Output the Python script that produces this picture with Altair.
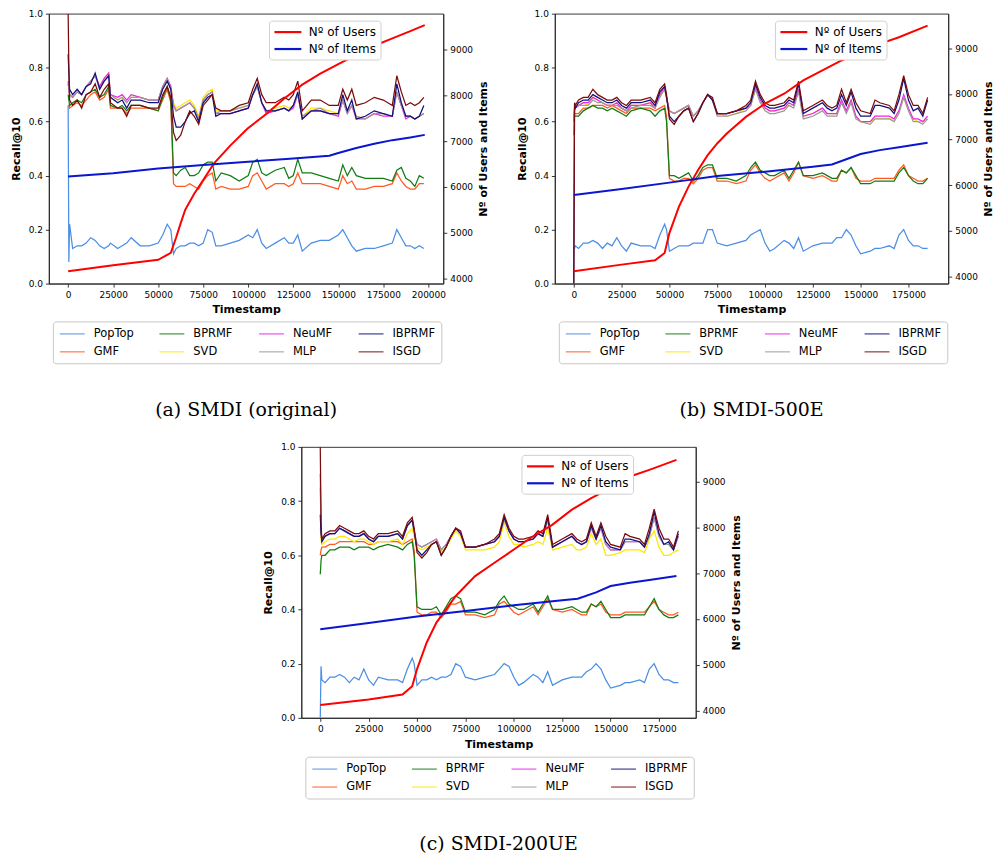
import altair as alt
import pandas as pd

# ---------------- shared definitions ----------------
DRAW_ORDER = ["PopTop", "GMF", "BPRMF", "SVD", "NeuMF", "MLP", "IBPRMF", "ISGD"]
LEGEND_ORDER = ["PopTop", "GMF", "BPRMF", "SVD", "NeuMF", "MLP", "IBPRMF", "ISGD"]
ALG_COLORS = {
    "PopTop": "#4a8ee6", "GMF": "#ff5a24", "BPRMF": "#127d12", "SVD": "#ffe800",
    "NeuMF": "#ee22ee", "MLP": "#9a9a9a", "IBPRMF": "#10107e", "ISGD": "#7b0a0a",
}
COUNT_NAMES = ["Nº of Users", "Nº of Items"]
COUNT_COLORS = ["#ff0000", "#0a16cf"]

# ---------------- (a) SMDI (original) ----------------
TS_A = [0, 400, 800, 2500, 5000, 7500, 10000, 12500, 15000, 17500,
        20000, 22500, 23500, 27500, 30000, 32500, 35000, 40000, 45000, 50000,
        52500, 55000, 57000, 58500, 60000, 62500, 65000, 67500, 70000, 72500,
        75000, 77500, 80000, 82000, 85000, 90000, 95000, 100000, 102500, 105000,
        107500, 110000, 115000, 120000, 122500, 125000, 127500, 130000, 135000, 140000,
        145000, 150000, 152500, 155000, 157500, 160000, 165000, 170000, 175000, 180000,
        182500, 185000, 187500, 190000, 192500, 195000, 197500]
POPTOP_A = [0.66, 0.08, 0.22, 0.13, 0.14, 0.14, 0.15, 0.17, 0.16, 0.14,
            0.13, 0.14, 0.15, 0.13, 0.14, 0.15, 0.17, 0.14, 0.14, 0.15,
            0.18, 0.22, 0.20, 0.11, 0.13, 0.14, 0.14, 0.15, 0.15, 0.14,
            0.15, 0.20, 0.19, 0.14, 0.14, 0.15, 0.16, 0.18, 0.17, 0.20,
            0.15, 0.13, 0.15, 0.17, 0.15, 0.15, 0.18, 0.12, 0.15, 0.16,
            0.16, 0.18, 0.20, 0.17, 0.14, 0.12, 0.13, 0.13, 0.14, 0.15,
            0.20, 0.17, 0.14, 0.14, 0.13, 0.14, 0.13]
GMF_A = [0.66, 0.66, 0.65, 0.66, 0.67, 0.66, 0.68, 0.70, 0.71, 0.68,
         0.69, 0.72, 0.65, 0.65, 0.65, 0.63, 0.65, 0.65, 0.65, 0.64,
         0.68, 0.72, 0.67, 0.37, 0.36, 0.36, 0.36, 0.37, 0.36, 0.35,
         0.38, 0.40, 0.41, 0.35, 0.36, 0.35, 0.35, 0.36, 0.40, 0.41,
         0.38, 0.35, 0.37, 0.37, 0.36, 0.37, 0.41, 0.37, 0.37, 0.37,
         0.36, 0.35, 0.40, 0.37, 0.38, 0.35, 0.35, 0.36, 0.36, 0.37,
         0.41, 0.38, 0.36, 0.35, 0.35, 0.37, 0.37]
BPRMF_A = [0.70, 0.68, 0.66, 0.67, 0.68, 0.67, 0.70, 0.71, 0.72, 0.69,
           0.70, 0.73, 0.66, 0.65, 0.66, 0.64, 0.66, 0.66, 0.65, 0.64,
           0.69, 0.73, 0.68, 0.41, 0.40, 0.42, 0.43, 0.40, 0.40, 0.41,
           0.44, 0.45, 0.45, 0.38, 0.41, 0.40, 0.38, 0.40, 0.45, 0.46,
           0.41, 0.40, 0.42, 0.43, 0.39, 0.40, 0.46, 0.41, 0.41, 0.40,
           0.39, 0.38, 0.44, 0.40, 0.43, 0.40, 0.39, 0.39, 0.39, 0.38,
           0.42, 0.43, 0.39, 0.38, 0.36, 0.40, 0.39]
SVD_A = [0.74, 0.72, 0.70, 0.69, 0.71, 0.70, 0.73, 0.75, 0.77, 0.73,
         0.76, 0.78, 0.70, 0.68, 0.69, 0.67, 0.69, 0.69, 0.68, 0.68,
         0.73, 0.76, 0.73, 0.67, 0.65, 0.66, 0.67, 0.68, 0.66, 0.62,
         0.69, 0.71, 0.72, 0.64, 0.64, 0.64, 0.65, 0.66, 0.70, 0.73,
         0.67, 0.64, 0.65, 0.66, 0.65, 0.66, 0.70, 0.62, 0.65, 0.65,
         0.64, 0.63, 0.68, 0.64, 0.66, 0.62, 0.61, 0.63, 0.63, 0.62,
         0.71, 0.66, 0.62, 0.62, 0.61, 0.62, 0.63]
NEUMF_A = [0.75, 0.72, 0.70, 0.69, 0.71, 0.70, 0.73, 0.75, 0.77, 0.73,
           0.76, 0.78, 0.70, 0.69, 0.70, 0.68, 0.70, 0.69, 0.68, 0.68,
           0.73, 0.76, 0.73, 0.66, 0.64, 0.65, 0.66, 0.67, 0.65, 0.61,
           0.68, 0.70, 0.71, 0.63, 0.63, 0.63, 0.64, 0.65, 0.70, 0.73,
           0.67, 0.63, 0.64, 0.65, 0.64, 0.65, 0.70, 0.61, 0.64, 0.64,
           0.63, 0.62, 0.68, 0.63, 0.66, 0.61, 0.61, 0.63, 0.62, 0.62,
           0.71, 0.66, 0.61, 0.62, 0.61, 0.62, 0.63]
MLP_A = [0.74, 0.72, 0.70, 0.69, 0.71, 0.70, 0.73, 0.75, 0.77, 0.72,
         0.75, 0.77, 0.70, 0.68, 0.69, 0.67, 0.69, 0.69, 0.68, 0.68,
         0.73, 0.76, 0.72, 0.66, 0.64, 0.65, 0.66, 0.67, 0.65, 0.61,
         0.68, 0.70, 0.71, 0.63, 0.64, 0.64, 0.65, 0.66, 0.70, 0.73,
         0.67, 0.64, 0.64, 0.65, 0.64, 0.66, 0.70, 0.62, 0.64, 0.65,
         0.63, 0.63, 0.68, 0.63, 0.66, 0.62, 0.61, 0.63, 0.63, 0.62,
         0.71, 0.66, 0.62, 0.62, 0.61, 0.62, 0.63]
IBPRMF_A = [0.85, 0.78, 0.72, 0.70, 0.72, 0.70, 0.73, 0.74, 0.78, 0.72,
            0.75, 0.77, 0.69, 0.67, 0.68, 0.65, 0.68, 0.68, 0.67, 0.67,
            0.72, 0.75, 0.72, 0.62, 0.58, 0.58, 0.60, 0.63, 0.64, 0.60,
            0.67, 0.69, 0.70, 0.62, 0.63, 0.63, 0.64, 0.65, 0.70, 0.74,
            0.67, 0.64, 0.64, 0.65, 0.64, 0.66, 0.71, 0.61, 0.64, 0.64,
            0.63, 0.63, 0.70, 0.64, 0.68, 0.61, 0.62, 0.64, 0.63, 0.62,
            0.74, 0.67, 0.62, 0.62, 0.61, 0.62, 0.66]
ISGD_A = [1.00, 0.80, 0.68, 0.66, 0.68, 0.65, 0.70, 0.71, 0.74, 0.69,
          0.72, 0.74, 0.67, 0.65, 0.65, 0.62, 0.66, 0.66, 0.65, 0.65,
          0.70, 0.73, 0.69, 0.56, 0.53, 0.55, 0.60, 0.64, 0.62, 0.59,
          0.66, 0.68, 0.70, 0.65, 0.64, 0.64, 0.66, 0.67, 0.72, 0.76,
          0.70, 0.67, 0.67, 0.69, 0.68, 0.70, 0.75, 0.64, 0.68, 0.68,
          0.66, 0.66, 0.72, 0.68, 0.72, 0.66, 0.67, 0.69, 0.68, 0.66,
          0.77, 0.71, 0.66, 0.67, 0.66, 0.67, 0.69]
USERS_TS_A = [0, 25000, 50000, 57000, 60000, 62500, 65000, 70000, 75000, 81000, 90000,
              99500, 110000, 120000, 130000, 140000, 150000, 160000, 170000, 180000, 190000, 198000]
USERS_A = [4160, 4290, 4410, 4560, 4900, 5210, 5500, 5850, 6150, 6515, 6900,
           7270, 7590, 7930, 8230, 8470, 8680, 8880, 9080, 9240, 9400, 9530]
ITEMS_TS_A = [0, 25000, 50000, 75000, 100000, 125000, 145000, 150000, 160000, 170000, 180000, 190000, 198000]
ITEMS_A = [6225, 6300, 6400, 6480, 6550, 6620, 6680, 6740, 6850, 6940, 7020, 7080, 7135]

# ---------------- (b) SMDI-500E and (c) SMDI-200UE share the time grid ----------------
TS_BC = [0, 400, 800, 2500, 5000, 7500, 10000, 12500, 15000, 17500,
         20000, 22500, 25000, 27500, 30000, 35000, 40000, 42500, 45000, 47500,
         48500, 50000, 52500, 55000, 57500, 60000, 62500, 65000, 67500, 70000,
         72500, 75000, 80000, 85000, 90000, 92500, 95000, 97500, 100000, 102500,
         105000, 110000, 112500, 115000, 117500, 120000, 125000, 130000, 132500, 135000,
         137500, 140000, 142500, 145000, 147500, 150000, 155000, 157500, 160000, 165000,
         167500, 170000, 172500, 175000, 177500, 180000, 182500, 185000]

POPTOP_B = [0.13, 0.13, 0.14, 0.13, 0.15, 0.15, 0.16, 0.15, 0.13, 0.15,
            0.14, 0.17, 0.14, 0.12, 0.15, 0.14, 0.14, 0.13, 0.18, 0.22,
            0.20, 0.12, 0.13, 0.14, 0.14, 0.14, 0.15, 0.15, 0.15, 0.20,
            0.20, 0.15, 0.14, 0.15, 0.16, 0.18, 0.19, 0.20, 0.15, 0.12,
            0.13, 0.16, 0.15, 0.13, 0.17, 0.12, 0.14, 0.15, 0.15, 0.15,
            0.17, 0.17, 0.20, 0.18, 0.14, 0.11, 0.12, 0.13, 0.13, 0.14,
            0.13, 0.18, 0.20, 0.16, 0.14, 0.14, 0.13, 0.13]
GMF_B = [0.55, 0.63, 0.63, 0.63, 0.65, 0.65, 0.66, 0.66, 0.66, 0.65,
         0.66, 0.65, 0.64, 0.63, 0.65, 0.65, 0.65, 0.64, 0.65, 0.66,
         0.62, 0.39, 0.38, 0.38, 0.39, 0.39, 0.37, 0.39, 0.42, 0.43,
         0.43, 0.38, 0.38, 0.37, 0.38, 0.42, 0.44, 0.41, 0.39, 0.38,
         0.39, 0.41, 0.38, 0.41, 0.45, 0.40, 0.39, 0.40, 0.39, 0.38,
         0.38, 0.42, 0.41, 0.43, 0.39, 0.38, 0.38, 0.39, 0.39, 0.39,
         0.39, 0.42, 0.44, 0.40, 0.39, 0.38, 0.38, 0.39]
BPRMF_B = [0.60, 0.62, 0.62, 0.62, 0.64, 0.65, 0.66, 0.65, 0.65, 0.64,
           0.65, 0.64, 0.63, 0.62, 0.64, 0.65, 0.64, 0.62, 0.64, 0.65,
           0.60, 0.40, 0.40, 0.39, 0.40, 0.41, 0.38, 0.40, 0.43, 0.44,
           0.44, 0.39, 0.39, 0.38, 0.40, 0.43, 0.45, 0.42, 0.41, 0.40,
           0.40, 0.42, 0.39, 0.42, 0.45, 0.40, 0.40, 0.41, 0.40, 0.39,
           0.39, 0.42, 0.41, 0.43, 0.40, 0.37, 0.37, 0.38, 0.38, 0.38,
           0.38, 0.41, 0.43, 0.40, 0.38, 0.37, 0.37, 0.39]
SVD_B = [0.60, 0.65, 0.65, 0.66, 0.67, 0.66, 0.69, 0.68, 0.67, 0.66,
         0.66, 0.67, 0.65, 0.64, 0.66, 0.66, 0.67, 0.65, 0.70, 0.72,
         0.69, 0.64, 0.63, 0.64, 0.65, 0.66, 0.62, 0.64, 0.67, 0.70,
         0.68, 0.63, 0.62, 0.63, 0.65, 0.66, 0.72, 0.68, 0.65, 0.64,
         0.64, 0.65, 0.66, 0.66, 0.72, 0.62, 0.63, 0.65, 0.63, 0.63,
         0.63, 0.67, 0.64, 0.68, 0.62, 0.60, 0.60, 0.61, 0.61, 0.61,
         0.61, 0.64, 0.69, 0.64, 0.61, 0.60, 0.60, 0.61]
NEUMF_B = [0.60, 0.65, 0.65, 0.66, 0.67, 0.67, 0.69, 0.68, 0.67, 0.66,
           0.66, 0.67, 0.65, 0.64, 0.66, 0.66, 0.67, 0.65, 0.70, 0.73,
           0.69, 0.64, 0.63, 0.64, 0.65, 0.66, 0.62, 0.64, 0.67, 0.70,
           0.68, 0.63, 0.63, 0.64, 0.65, 0.66, 0.73, 0.68, 0.65, 0.64,
           0.64, 0.65, 0.67, 0.66, 0.72, 0.62, 0.63, 0.65, 0.63, 0.63,
           0.63, 0.68, 0.64, 0.68, 0.62, 0.60, 0.60, 0.62, 0.62, 0.62,
           0.61, 0.64, 0.70, 0.65, 0.61, 0.61, 0.60, 0.62]
MLP_B = [0.60, 0.64, 0.65, 0.66, 0.66, 0.66, 0.68, 0.67, 0.67, 0.66,
         0.66, 0.66, 0.65, 0.64, 0.65, 0.66, 0.66, 0.65, 0.69, 0.72,
         0.69, 0.64, 0.63, 0.64, 0.65, 0.66, 0.62, 0.64, 0.67, 0.70,
         0.68, 0.62, 0.62, 0.63, 0.64, 0.66, 0.72, 0.67, 0.64, 0.63,
         0.63, 0.64, 0.66, 0.65, 0.71, 0.61, 0.62, 0.64, 0.62, 0.62,
         0.62, 0.67, 0.63, 0.67, 0.61, 0.60, 0.59, 0.61, 0.61, 0.61,
         0.60, 0.63, 0.69, 0.64, 0.60, 0.60, 0.59, 0.61]
IBPRMF_B = [0.00, 0.66, 0.65, 0.67, 0.68, 0.68, 0.70, 0.69, 0.68, 0.67,
            0.67, 0.68, 0.66, 0.65, 0.67, 0.67, 0.68, 0.66, 0.71, 0.73,
            0.69, 0.62, 0.60, 0.62, 0.64, 0.65, 0.60, 0.63, 0.67, 0.70,
            0.68, 0.63, 0.63, 0.64, 0.65, 0.67, 0.74, 0.69, 0.66, 0.65,
            0.65, 0.66, 0.68, 0.67, 0.74, 0.63, 0.65, 0.67, 0.65, 0.64,
            0.65, 0.70, 0.66, 0.71, 0.65, 0.62, 0.62, 0.66, 0.66, 0.65,
            0.63, 0.68, 0.76, 0.68, 0.64, 0.65, 0.62, 0.68]
ISGD_B = [0.00, 0.67, 0.66, 0.68, 0.69, 0.69, 0.72, 0.70, 0.69, 0.68,
          0.68, 0.69, 0.67, 0.66, 0.68, 0.68, 0.69, 0.67, 0.72, 0.74,
          0.70, 0.61, 0.59, 0.62, 0.64, 0.65, 0.60, 0.63, 0.67, 0.70,
          0.69, 0.63, 0.63, 0.64, 0.66, 0.68, 0.75, 0.70, 0.67, 0.66,
          0.66, 0.67, 0.69, 0.68, 0.75, 0.64, 0.66, 0.68, 0.66, 0.65,
          0.66, 0.72, 0.67, 0.72, 0.67, 0.64, 0.63, 0.68, 0.67, 0.66,
          0.64, 0.70, 0.77, 0.70, 0.66, 0.66, 0.63, 0.69]
USERS_TS_B = [0, 25000, 42500, 47500, 50000, 55000, 60000, 65000, 70000, 75000, 80000,
              90000, 100000, 110000, 120000, 130000, 140000, 150000, 160000, 170000, 185000]
USERS_B = [4116, 4262, 4356, 4516, 4952, 5533, 5970, 6333, 6660, 6914, 7132,
           7496, 7786, 8004, 8295, 8513, 8731, 8913, 9094, 9240, 9494]
ITEMS_TS_B = [0, 25000, 50000, 75000, 100000, 125000, 135000, 142500, 150000, 160000, 170000, 185000]
ITEMS_B = [5788, 5920, 6057, 6202, 6297, 6405, 6456, 6570, 6682, 6769, 6830, 6929]

POPTOP_C = [0.00, 0.19, 0.14, 0.13, 0.15, 0.15, 0.16, 0.15, 0.13, 0.15,
            0.14, 0.18, 0.14, 0.12, 0.15, 0.14, 0.14, 0.13, 0.18, 0.22,
            0.20, 0.12, 0.14, 0.14, 0.15, 0.14, 0.15, 0.15, 0.16, 0.20,
            0.19, 0.15, 0.14, 0.15, 0.16, 0.18, 0.20, 0.19, 0.15, 0.12,
            0.13, 0.16, 0.15, 0.13, 0.17, 0.12, 0.14, 0.15, 0.15, 0.15,
            0.17, 0.18, 0.20, 0.18, 0.14, 0.11, 0.12, 0.13, 0.13, 0.14,
            0.13, 0.18, 0.20, 0.16, 0.14, 0.14, 0.13, 0.13]
GMF_C = [0.60, 0.62, 0.63, 0.63, 0.64, 0.64, 0.65, 0.65, 0.65, 0.65,
         0.65, 0.65, 0.64, 0.64, 0.65, 0.65, 0.65, 0.64, 0.65, 0.66,
         0.62, 0.39, 0.38, 0.38, 0.39, 0.39, 0.37, 0.39, 0.42, 0.42,
         0.43, 0.38, 0.38, 0.37, 0.38, 0.42, 0.43, 0.41, 0.39, 0.38,
         0.39, 0.41, 0.38, 0.41, 0.44, 0.40, 0.39, 0.40, 0.39, 0.38,
         0.38, 0.42, 0.41, 0.42, 0.39, 0.38, 0.38, 0.39, 0.39, 0.39,
         0.39, 0.41, 0.43, 0.40, 0.39, 0.38, 0.38, 0.39]
BPRMF_C = [0.53, 0.58, 0.60, 0.60, 0.62, 0.62, 0.63, 0.63, 0.63, 0.62,
           0.63, 0.63, 0.63, 0.62, 0.63, 0.64, 0.63, 0.62, 0.64, 0.65,
           0.60, 0.41, 0.40, 0.40, 0.40, 0.41, 0.38, 0.41, 0.44, 0.45,
           0.44, 0.39, 0.39, 0.38, 0.40, 0.43, 0.45, 0.42, 0.41, 0.40,
           0.40, 0.42, 0.39, 0.42, 0.45, 0.40, 0.40, 0.41, 0.40, 0.39,
           0.39, 0.42, 0.41, 0.43, 0.40, 0.37, 0.37, 0.38, 0.38, 0.38,
           0.38, 0.41, 0.44, 0.40, 0.38, 0.37, 0.37, 0.38]
SVD_C = [0.70, 0.66, 0.64, 0.65, 0.66, 0.66, 0.67, 0.67, 0.66, 0.65,
         0.66, 0.66, 0.65, 0.64, 0.65, 0.65, 0.66, 0.64, 0.68, 0.70,
         0.67, 0.63, 0.62, 0.63, 0.64, 0.65, 0.61, 0.63, 0.66, 0.69,
         0.67, 0.62, 0.62, 0.62, 0.63, 0.65, 0.72, 0.67, 0.64, 0.64,
         0.63, 0.64, 0.65, 0.64, 0.70, 0.62, 0.63, 0.64, 0.62, 0.62,
         0.63, 0.68, 0.64, 0.66, 0.60, 0.60, 0.61, 0.62, 0.62, 0.62,
         0.61, 0.66, 0.69, 0.63, 0.60, 0.60, 0.61, 0.62]
NEUMF_C = [0.90, 0.70, 0.66, 0.67, 0.68, 0.68, 0.70, 0.69, 0.68, 0.67,
           0.67, 0.68, 0.66, 0.65, 0.67, 0.67, 0.68, 0.66, 0.71, 0.73,
           0.69, 0.64, 0.63, 0.64, 0.65, 0.66, 0.62, 0.64, 0.67, 0.70,
           0.68, 0.63, 0.63, 0.64, 0.65, 0.67, 0.74, 0.69, 0.66, 0.65,
           0.65, 0.66, 0.68, 0.67, 0.73, 0.63, 0.65, 0.67, 0.65, 0.64,
           0.65, 0.70, 0.66, 0.70, 0.64, 0.62, 0.62, 0.65, 0.65, 0.65,
           0.63, 0.67, 0.74, 0.67, 0.64, 0.64, 0.62, 0.67]
MLP_C = [0.85, 0.69, 0.66, 0.67, 0.68, 0.68, 0.70, 0.69, 0.68, 0.67,
         0.67, 0.68, 0.66, 0.65, 0.67, 0.67, 0.68, 0.66, 0.71, 0.73,
         0.69, 0.64, 0.63, 0.64, 0.65, 0.66, 0.62, 0.64, 0.67, 0.70,
         0.68, 0.63, 0.63, 0.64, 0.65, 0.67, 0.73, 0.69, 0.66, 0.65,
         0.65, 0.66, 0.68, 0.67, 0.73, 0.63, 0.65, 0.67, 0.65, 0.64,
         0.65, 0.70, 0.66, 0.70, 0.64, 0.62, 0.62, 0.65, 0.65, 0.65,
         0.63, 0.67, 0.74, 0.67, 0.64, 0.64, 0.62, 0.67]
IBPRMF_C = [0.75, 0.68, 0.65, 0.67, 0.68, 0.68, 0.70, 0.69, 0.68, 0.67,
            0.67, 0.68, 0.66, 0.65, 0.67, 0.67, 0.68, 0.66, 0.71, 0.73,
            0.69, 0.62, 0.60, 0.62, 0.64, 0.65, 0.60, 0.63, 0.67, 0.70,
            0.68, 0.63, 0.63, 0.64, 0.65, 0.67, 0.74, 0.69, 0.66, 0.65,
            0.65, 0.66, 0.68, 0.67, 0.74, 0.63, 0.65, 0.67, 0.65, 0.64,
            0.65, 0.71, 0.66, 0.71, 0.65, 0.63, 0.62, 0.66, 0.66, 0.65,
            0.63, 0.68, 0.76, 0.68, 0.64, 0.65, 0.62, 0.68]
ISGD_C = [1.00, 0.72, 0.66, 0.68, 0.69, 0.69, 0.71, 0.70, 0.69, 0.68,
          0.68, 0.69, 0.67, 0.66, 0.68, 0.68, 0.69, 0.67, 0.72, 0.74,
          0.70, 0.61, 0.59, 0.61, 0.64, 0.65, 0.60, 0.63, 0.67, 0.70,
          0.69, 0.63, 0.63, 0.64, 0.66, 0.68, 0.75, 0.70, 0.67, 0.66,
          0.66, 0.67, 0.69, 0.68, 0.75, 0.64, 0.66, 0.68, 0.66, 0.65,
          0.66, 0.72, 0.67, 0.72, 0.67, 0.64, 0.63, 0.68, 0.67, 0.66,
          0.64, 0.70, 0.77, 0.70, 0.66, 0.66, 0.63, 0.69]
USERS_TS_C = [0, 25000, 42500, 47500, 50000, 55000, 60000, 65000, 70000, 80000, 90000,
              100000, 110000, 120000, 130000, 140000, 150000, 160000, 170000, 184000]
USERS_C = [4123, 4240, 4348, 4529, 4906, 5486, 5920, 6210, 6500, 6935, 7225,
           7514, 7804, 8058, 8384, 8638, 8855, 9109, 9254, 9471]
ITEMS_TS_C = [0, 25000, 50000, 75000, 100000, 125000, 133000, 142500, 150000, 160000, 170000, 184000]
ITEMS_C = [5775, 5910, 6051, 6174, 6297, 6406, 6442, 6580, 6717, 6790, 6850, 6935]

X_TICKS_A = [0, 25000, 50000, 75000, 100000, 125000, 150000, 175000, 200000]
X_TICKS_BC = [0, 25000, 50000, 75000, 100000, 125000, 150000, 175000]
Y_TICKS = [0.0, 0.2, 0.4, 0.6, 0.8, 1.0]
R_TICKS = [4000, 5000, 6000, 7000, 8000, 9000]


def alg_frame(ts, series):
    rows = []
    for name in DRAW_ORDER:
        vals = series[name]
        assert len(vals) == len(ts), (name, len(vals), len(ts))
        for t, v in zip(ts, vals):
            rows.append({"ts": t, "recall": v, "alg": name})
    return pd.DataFrame(rows)


def count_frame(u_ts, u, i_ts, i):
    assert len(u_ts) == len(u) and len(i_ts) == len(i)
    rows = [{"ts": t, "n": v, "what": COUNT_NAMES[0]} for t, v in zip(u_ts, u)]
    rows += [{"ts": t, "n": v, "what": COUNT_NAMES[1]} for t, v in zip(i_ts, i)]
    return pd.DataFrame(rows)


def panel(adf, cdf, xdom, xticks, rdom, w, h, caption, ly_count, ly_alg, cap_offset):
    x_enc = alt.X("ts:Q", scale=alt.Scale(domain=xdom, nice=False, zero=False),
                  axis=alt.Axis(values=xticks, format="d", title="Timestamp",
                                labelPadding=3, titlePadding=5, labelFlush=False))
    lines = alt.Chart(adf).mark_line(strokeWidth=1.25, clip=True).encode(
        x=x_enc,
        y=alt.Y("recall:Q", scale=alt.Scale(domain=[0, 1], nice=False, zero=False),
                axis=alt.Axis(values=Y_TICKS, format=".1f", title="Recall@10",
                              labelPadding=3, titlePadding=7)),
        color=alt.Color("alg:N", title=None,
                        scale=alt.Scale(domain=LEGEND_ORDER,
                                        range=[ALG_COLORS[n] for n in LEGEND_ORDER]),
                        legend=alt.Legend(orient="none", legendX=4, legendY=ly_alg,
                                          columns=4, gridAlign="all",
                                          symbolType="M-1,0H3.545", symbolSize=121,
                                          symbolStrokeWidth=1.6, symbolOpacity=0.6,
                                          symbolFillColor="transparent",
                                          labelFont="DejaVu Sans", labelFontSize=11.5,
                                          labelColor="black", labelOffset=22,
                                          columnPadding=19, rowPadding=6, padding=6,
                                          strokeColor="#c8c8c8", fillColor="white",
                                          cornerRadius=3)),
    )
    counts = alt.Chart(cdf).mark_line(strokeWidth=2.0, clip=True).encode(
        x=alt.X("ts:Q"),
        y=alt.Y("n:Q", scale=alt.Scale(domain=rdom, nice=False, zero=False),
                axis=alt.Axis(orient="right", values=R_TICKS, format="d",
                              title="Nº of Users and Items", titleAngle=270,
                              labelPadding=3, titlePadding=16)),
        stroke=alt.Stroke("what:N", title=None,
                          scale=alt.Scale(domain=COUNT_NAMES, range=COUNT_COLORS),
                          legend=alt.Legend(orient="none", legendX=221, legendY=ly_count,
                                            direction="vertical",
                                            symbolType="M-1,0H3.5", symbolSize=144,
                                            symbolStrokeWidth=2.2,
                                            symbolFillColor="transparent",
                                            labelFont="DejaVu Sans", labelFontSize=12,
                                            labelColor="black", labelOffset=21,
                                            rowPadding=3, padding=4,
                                            strokeColor="#d0d0d0", fillColor="white",
                                            cornerRadius=3)),
    )
    return alt.layer(lines, counts).resolve_scale(y="independent").properties(
        width=w, height=h,
        title=alt.TitleParams(caption, orient="bottom", anchor="middle",
                              font="DejaVu Serif", fontSize=19, fontWeight="normal",
                              color="black", offset=cap_offset),
    )


pa = panel(alg_frame(TS_A, {"PopTop": POPTOP_A, "GMF": GMF_A, "BPRMF": BPRMF_A, "SVD": SVD_A,
                             "NeuMF": NEUMF_A, "MLP": MLP_A, "IBPRMF": IBPRMF_A, "ISGD": ISGD_A}),
           count_frame(USERS_TS_A, USERS_A, ITEMS_TS_A, ITEMS_A),
           [-10700, 208300], X_TICKS_A, [3890, 9780], 396, 271,
           "(a) SMDI (original)", 7, 309, 37)
pb = panel(alg_frame(TS_BC, {"PopTop": POPTOP_B, "GMF": GMF_B, "BPRMF": BPRMF_B, "SVD": SVD_B,
                              "NeuMF": NEUMF_B, "MLP": MLP_B, "IBPRMF": IBPRMF_B, "ISGD": ISGD_B}),
           count_frame(USERS_TS_B, USERS_B, ITEMS_TS_B, ITEMS_B),
           [-9900, 195800], X_TICKS_BC, [3847, 9756], 395, 271,
           "(b) SMDI-500E", 7, 309, 37)
pc = panel(alg_frame(TS_BC, {"PopTop": POPTOP_C, "GMF": GMF_C, "BPRMF": BPRMF_C, "SVD": SVD_C,
                              "NeuMF": NEUMF_C, "MLP": MLP_C, "IBPRMF": IBPRMF_C, "ISGD": ISGD_C}),
           count_frame(USERS_TS_C, USERS_C, ITEMS_TS_C, ITEMS_C),
           [-9770, 194000], X_TICKS_BC, [3841, 9754], 396, 272,
           "(c) SMDI-200UE", 8, 311, 36)

RES = dict(x="independent", y="independent", color="independent", stroke="independent")
row1 = alt.hconcat(pa, pb, spacing=26).resolve_scale(**RES)
chart = alt.vconcat(row1, pc, spacing=22, center=True).resolve_scale(**RES).properties(
    padding={"left": 9, "top": 7, "right": 0, "bottom": 0},
).configure(font="DejaVu Sans").configure_view(
    stroke="#222222", strokeWidth=0.9,
).configure_axis(
    labelFont="DejaVu Sans", labelFontSize=9, labelColor="black",
    titleFont="DejaVu Sans", titleFontSize=11, titleFontWeight="bold", titleColor="black",
    tickColor="#222222", domainColor="#222222", tickSize=3.5, tickWidth=0.9,
    domainWidth=0.9, grid=False,
)

chart.save("out.html", embed_options={"renderer": "svg", "actions": False})
